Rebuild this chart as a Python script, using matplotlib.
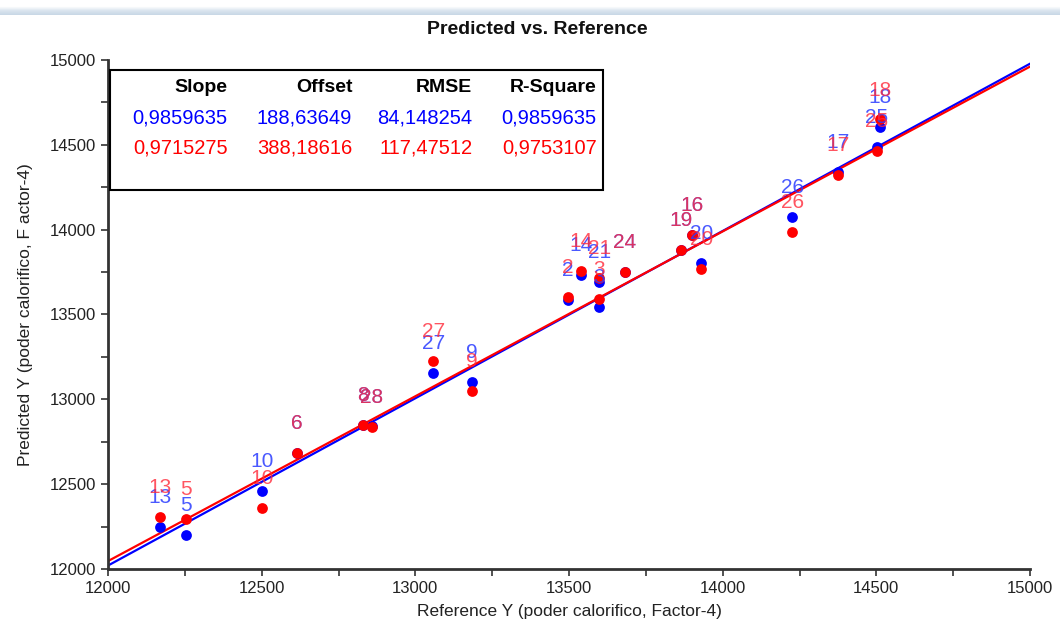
import matplotlib
matplotlib.use("Agg")
import matplotlib.pyplot as plt
import numpy as np
from matplotlib.ticker import MultipleLocator
from matplotlib.colors import LinearSegmentedColormap

plt.rcParams['font.family'] = ['Liberation Sans', 'DejaVu Sans']

# ---- data ----
sample_ids = ["13", "5", "10", "6", "8", "28", "27", "9", "2", "14", "21", "3",
              "24", "19", "16", "20", "26", "17", "25", "18"]
reference_y = [12169, 12254, 12501, 12615, 12830, 12859, 13058, 13185, 13497, 13539,
               13598, 13598, 13682, 13865, 13900, 13930, 14226, 14375, 14502, 14512]
predicted_blue = [12247, 12200, 12460, 12684, 12849, 12840, 13155, 13102, 13585, 13732,
                  13691, 13544, 13750, 13880, 13968, 13803, 14074, 14340, 14487, 14605]
predicted_red = [12306, 12295, 12360, 12684, 12849, 12837, 13226, 13049, 13603, 13756,
                 13715, 13591, 13750, 13880, 13968, 13768, 13986, 14322, 14463, 14650]

slope_blue, offset_blue = 0.9859635, 188.63649
slope_red, offset_red = 0.9715275, 388.18616

table_header = ["Slope", "Offset", "RMSE", "R-Square"]
table_blue = ["0,9859635", "188,63649", "84,148254", "0,9859635"]
table_red = ["0,9715275", "388,18616", "117,47512", "0,9753107"]

x_range = [12000, 15000]
y_range = [12000, 15000]

# ---- figure ----
fig = plt.figure(figsize=(10.6, 6.37), dpi=100)
ax = fig.add_axes([0.1019, 0.1068, 0.8698, 0.799])

# top gradient band
band = fig.add_axes([0.0, 0.976, 1.0, 0.014])
cmap = LinearSegmentedColormap.from_list("band", ["#ffffff", "#dbe5ef", "#c9d8e6"])
band.imshow(np.linspace(0, 1, 10).reshape(-1, 1), aspect='auto', cmap=cmap,
            extent=[0, 1, 0, 1])
band.axis('off')

xs = np.array(x_range, dtype=float)
ax.plot(xs, slope_blue * xs + offset_blue, color='blue', lw=1.6, zorder=2)
ax.plot(xs, slope_red * xs + offset_red, color='red', lw=1.6, zorder=2)

ax.scatter(reference_y, predicted_blue, s=60, color='blue', zorder=3, linewidths=0)
ax.scatter(reference_y, predicted_red, s=60, color='red', zorder=4, linewidths=0)

for sid, x, yb, yr in zip(sample_ids, reference_y, predicted_blue, predicted_red):
    ax.annotate(sid, (x, yb), xytext=(0, 21), textcoords='offset points',
                ha='center', va='center', fontsize=15, color='#2a3cff', alpha=0.85, zorder=5)
    ax.annotate(sid, (x, yr), xytext=(0, 21), textcoords='offset points',
                ha='center', va='center', fontsize=15, color='#ff2a3a', alpha=0.8, zorder=5)

ax.set_xlim(*x_range)
ax.set_ylim(*y_range)
ax.xaxis.set_major_locator(MultipleLocator(500))
ax.xaxis.set_minor_locator(MultipleLocator(250))
ax.yaxis.set_major_locator(MultipleLocator(500))
ax.yaxis.set_minor_locator(MultipleLocator(250))
ax.tick_params(which='both', direction='out', length=5, width=1.2, color='#333333')
ax.tick_params(which='major', labelsize=12, labelcolor='#222222')
for s in ['top', 'right']:
    ax.spines[s].set_visible(False)
for s in ['left', 'bottom']:
    ax.spines[s].set_linewidth(2)
    ax.spines[s].set_color('#333333')

ax.set_xlabel("Reference Y (poder calorifico, Factor-4)", fontsize=12.5, color='#222222', labelpad=6)
ax.set_ylabel("Predicted Y (poder calorifico, F actor-4)", fontsize=12.5, color='#222222', labelpad=12)
fig.text(0.507, 0.953, "Predicted vs. Reference", ha='center', va='center',
         fontsize=14, fontweight='bold', color='#111111')

# stats table box
rect = plt.Rectangle((0.002, 0.745), 0.535, 0.235, transform=ax.transAxes,
                     fill=True, facecolor='white', edgecolor='black', lw=1.5, zorder=6)
ax.add_patch(rect)
col_x = [0.130, 0.265, 0.395, 0.530]
for cx, h, b, r in zip(col_x, table_header, table_blue, table_red):
    ax.text(cx, 0.945, h, transform=ax.transAxes, ha='right', va='center',
            fontsize=14, fontweight='bold', color='black', zorder=7)
    ax.text(cx, 0.886, b, transform=ax.transAxes, ha='right', va='center',
            fontsize=14.5, color='blue', zorder=7)
    ax.text(cx, 0.827, r, transform=ax.transAxes, ha='right', va='center',
            fontsize=14.5, color='red', zorder=7)

fig.savefig("out.png", dpi=100)
